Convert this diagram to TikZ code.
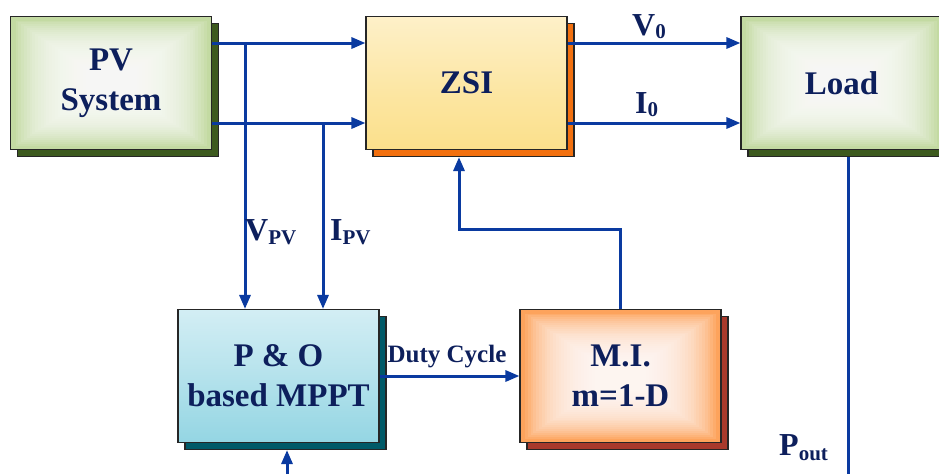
\documentclass[tikz,border=0pt]{standalone}
\usepackage{fontspec}
\setmainfont{Liberation Serif}
\usetikzlibrary{arrows.meta,shadows}
\definecolor{txt}{HTML}{0D1F5C}
\definecolor{ln}{HTML}{0A3AA0}
\definecolor{pvg}{HTML}{C3DAA2}
\definecolor{pvs}{HTML}{3D5A1E}
\definecolor{zst}{HTML}{FFF9EA}
\definecolor{zsb}{HTML}{FBDF88}
\definecolor{zss}{HTML}{F2700F}
\definecolor{mpt}{HTML}{F0F9FC}
\definecolor{mpb}{HTML}{90D4E2}
\definecolor{mps}{HTML}{005A68}
\definecolor{mio}{HTML}{FDA35C}
\definecolor{mis}{HTML}{A83A2C}
\pgfdeclareverticalshading{yellowgrad}{100bp}{color(0bp)=(zsb!80!white); color(22bp)=(zsb); color(45bp)=(zsb!75!zst); color(100bp)=(zst)}
\pgfdeclareverticalshading{cyangrad}{100bp}{color(0bp)=(mpb!75!white); color(22bp)=(mpb); color(55bp)=(mpb!55!mpt); color(100bp)=(mpt)}
\tikzset{
  blk/.style={draw=black!85, line width=1.1pt, minimum width=201pt, minimum height=133pt, inner sep=0pt, align=center, text=txt, font=\fontsize{33}{40}\selectfont\bfseries},
  shd/.style={fill=#1, draw=black!85, line width=1.1pt, minimum width=201pt, minimum height=133pt},
  arr/.style={draw=ln, line width=3pt, -{Triangle[length=14pt,width=11pt]}},
  wire/.style={draw=ln, line width=3pt},
  lbl/.style={text=txt, inner sep=0pt, font=\fontsize{32}{32}\selectfont\bfseries},
  glow/.style args={#1 on #2}{path picture={
     \fill[#2] (path picture bounding box.south west) rectangle (path picture bounding box.north east);
     \foreach \i in {0,...,25}{
       \fill[#1, opacity=0.1]
         ([shift={(5pt+2.8pt*\i,-4pt-1.9pt*\i)}]path picture bounding box.north west) rectangle
         ([shift={(-5pt-2.8pt*\i,4pt+1.9pt*\i)}]path picture bounding box.south east);
     }}}
}
\begin{document}
\begin{tikzpicture}[x=1pt,y=-1pt]
\useasboundingbox (0,0) rectangle (939,474);
\begin{scope}
\clip (0,0) rectangle (939,474);
\node[shd=pvs] (pvs) at (118,90) {};
\node[blk, glow=white on pvg] (pv) at (111,83) {PV\\System};
\node[shd=zss] (zsis) at (473.5,90) {};
\node[blk, shading=yellowgrad] (zsi) at (466.5,83) {ZSI};
\node[shd=pvs] (loads) at (848.5,90) {};
\node[blk, glow=white on pvg] (load) at (841.5,83) {Load};
\node[shd=mps] (mppts) at (285.5,383) {};
\node[blk, shading=cyangrad] (mppt) at (278.5,376) {P \& O\\based MPPT};
\node[shd=mis] (mis) at (627.5,383) {};
\node[blk, glow=white on mio] (mi) at (620.5,376) {M.I.\\m=1-D};

\coordinate (j1) at (245,43);
\coordinate (j2) at (323,123);
\coordinate (j3) at (620,229);
\coordinate (j4) at (459,229);
\coordinate (lbe) at (848,474);
\coordinate (mbe) at (287,474);

\draw[arr] (pv.east |- j1) -- (zsi.west |- j1);
\draw[arr] (pv.east |- j2) -- (zsi.west |- j2);
\draw[arr] (j1) -- (mppt.north -| j1);
\draw[arr] (j2) -- (mppt.north -| j2);
\draw[arr] (zsi.east |- j1) -- (load.west |- j1);
\draw[arr] (zsi.east |- j2) -- (load.west |- j2);
\draw[arr] (mppt.east |- 0,376) -- (mi.west |- 0,376);
\draw[arr] (mi.north -| j3) -- (j3) -- (j4) -- (zsis.south -| j4);
\draw[arr] (mbe) -- (mppts.south -| mbe);
\draw[wire] (loads.south -| lbe) -- (lbe);
\end{scope}

\node[lbl, anchor=base west] (vpv) at (245,240) {V\raisebox{-4pt}{\fontsize{21}{21}\selectfont PV}};
\node[lbl, anchor=base west] (ipv) at (330,240) {I\raisebox{-4pt}{\fontsize{21}{21}\selectfont PV}};
\node[lbl, anchor=base west] (v0) at (632,35) {V\raisebox{-3pt}{\fontsize{21}{21}\selectfont 0}};
\node[lbl, anchor=base west] (i0) at (635,113) {I\raisebox{-3pt}{\fontsize{21}{21}\selectfont 0}};
\node[lbl, anchor=base west] (pout) at (779,455) {P\raisebox{-5pt}{\fontsize{21}{21}\selectfont out}};
\node[lbl, anchor=base, font=\fontsize{25}{25}\selectfont\bfseries] (dc) at (447,362) {Duty Cycle};
\end{tikzpicture}
\end{document}
